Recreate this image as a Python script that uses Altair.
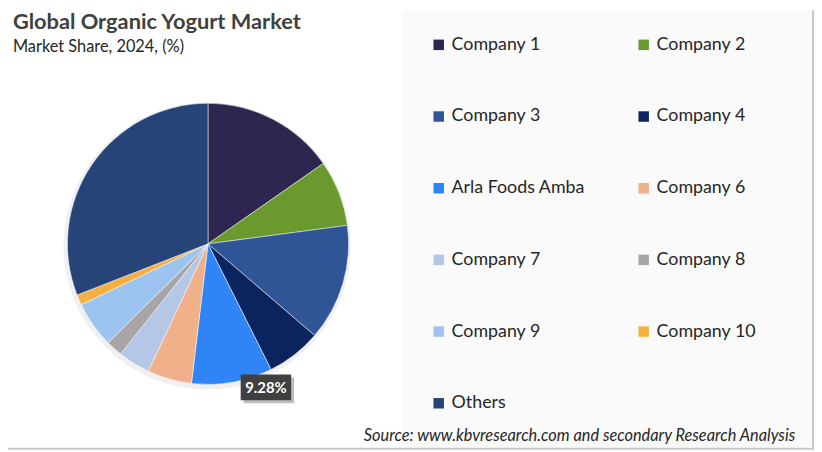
import altair as alt
import pandas as pd

title_text = "Global Organic Yogurt Market"
subtitle_text = "Market Share, 2024, (%)"
source_text = "Source: www.kbvresearch.com and secondary Research Analysis"

companies = ["Company 1", "Company 2", "Company 3", "Company 4", "Arla Foods Amba",
             "Company 6", "Company 7", "Company 8", "Company 9", "Company 10", "Others"]
shares = [15.3, 7.6, 13.4, 6.3, 9.28, 5.1, 3.7, 1.9, 5.3, 1.2, 30.92]
colors = ["#2E2650", "#6A9A2E", "#2F5597", "#0B2460", "#2F85F5", "#F0B08A",
          "#B4C7E7", "#A6A6A6", "#9DC3F0", "#F4B042", "#264478"]
label_company = "Arla Foods Amba"

df = pd.DataFrame({"company": companies, "share": shares, "order": list(range(len(companies)))})
df["label"] = df["share"].map(lambda v: f"{v:.2f}%")
one = pd.DataFrame({"a": [0]})

FONT = "Lato"
CX, CY, R = 202, 236, 142

panel = alt.Chart(one).mark_rect(color="#FAFAFA").encode(
    x=alt.value(398), x2=alt.value(812), y=alt.value(0), y2=alt.value(442))
border_r = alt.Chart(one).mark_rule(color="#C8C8C8", strokeWidth=2).encode(
    x=alt.value(813), y=alt.value(0), y2=alt.value(443))
border_b = alt.Chart(one).mark_rule(color="#C8C8C8", strokeWidth=2).encode(
    x=alt.value(0), x2=alt.value(814), y=alt.value(443))

shadow = alt.Chart(one).mark_point(shape="circle", filled=True, color="#000000", opacity=0.06,
                                   size=(2 * (R + 3)) ** 2).encode(
    x=alt.value(CX - 1), y=alt.value(CY + 2))

pie = alt.Chart(df).mark_arc(radius=R, stroke="#FFFFFF", strokeWidth=0.5).encode(
    theta=alt.Theta("share:Q", stack=True),
    color=alt.Color("company:N", sort=companies,
                    scale=alt.Scale(domain=companies, range=colors),
                    legend=alt.Legend(title=None, orient="none", legendX=426, legendY=26,
                                      columns=2, direction="horizontal",
                                      symbolType="square", symbolSize=112,
                                      symbolStrokeWidth=0, labelFontSize=18, labelFont=FONT,
                                      labelColor="#262626", rowPadding=54.4, columnPadding=50,
                                      labelOffset=4, labelLimit=300)),
    order=alt.Order("order:Q"),
    x=alt.value(CX), y=alt.value(CY),
)

lab = alt.Chart(df).transform_filter(alt.datum.company == label_company)
lab_shadow = lab.mark_rect(color="#000000", opacity=0.25).encode(
    x=alt.value(238), x2=alt.value(289), y=alt.value(371), y2=alt.value(397))
lab_box = lab.mark_rect(color="#404040").encode(
    x=alt.value(235), x2=alt.value(286), y=alt.value(368), y2=alt.value(394))
lab_text = lab.mark_text(font=FONT, fontSize=15, fontWeight="bold", color="#FFFFFF",
                         align="center", baseline="middle").encode(
    text="label:N", x=alt.value(260.5), y=alt.value(381.5))

title = alt.Chart(one).mark_text(text=title_text, font=FONT, fontSize=22, fontWeight="bold",
                                 color="#404040", align="left", baseline="alphabetic").encode(
    x=alt.value(5), y=alt.value(19))
subtitle = alt.Chart(one).mark_text(text=subtitle_text, font=FONT, fontSize=16.5,
                                    color="#262626", align="left", baseline="alphabetic").encode(
    x=alt.value(5), y=alt.value(42))
source = alt.Chart(one).mark_text(text=source_text, font=FONT, fontSize=16.5, fontStyle="italic",
                                  color="#262626", align="right", baseline="alphabetic").encode(
    x=alt.value(795), y=alt.value(435))

chart = alt.layer(panel, shadow, pie, lab_shadow, lab_box, lab_text, title, subtitle, source,
                  border_r, border_b).properties(
    width=814, height=444, padding=0, autosize=alt.AutoSizeParams(type="none"),
    background="#FFFFFF",
).configure_view(stroke=None)

chart.save("out.html", embed_options={"renderer": "svg", "actions": False})
